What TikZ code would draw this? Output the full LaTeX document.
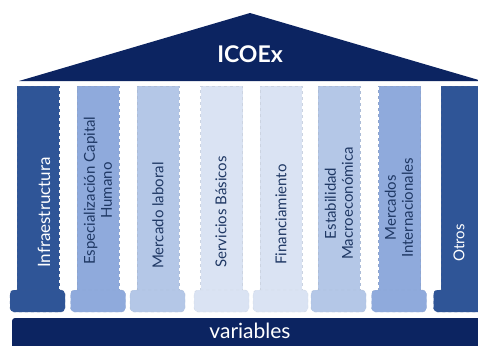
\documentclass[tikz,border=0pt]{standalone}
\usepackage{fontspec}
\setmainfont{Lato}
\definecolor{roofblue}{HTML}{0C2461}
\definecolor{deepblue}{HTML}{2F5597}
\definecolor{midblue}{HTML}{8FAADC}
\definecolor{softblue}{HTML}{B4C7E7}
\definecolor{paleblue}{HTML}{DAE3F3}
\definecolor{inkblue}{HTML}{1F3864}
\tikzset{
  pillar/.style={minimum width=42pt,minimum height=206pt,inner sep=0pt,
                 draw=#1!85!gray,dashed,fill=#1},
  plinth/.style={minimum width=55pt,minimum height=22pt,inner sep=0pt,
                 rounded corners=4pt,draw=#1!85!gray,dashed,fill=#1},
  colname/.style={rotate=90,anchor=west,align=center,inner sep=0pt,
                  font=\fontsize{15}{17}\selectfont,text=#1},
}
\begin{document}
\begin{tikzpicture}[x=1pt,y=-1pt]
  \useasboundingbox (0,0) rectangle (478,345);
  % roof
  \fill[roofblue] (19,81) -- (250,13) -- (482,81) -- cycle;
  \node[text=white,font=\fontsize{23}{26}\selectfont\bfseries] (icoex) at (250,54) {ICOEx};
  % pillars
  \node[pillar=deepblue] (p1) at (38,189)    {};
  \node[pillar=midblue]  (p2) at (98,189)    {};
  \node[pillar=softblue] (p3) at (158,189)   {};
  \node[pillar=paleblue] (p4) at (221.5,189) {};
  \node[pillar=paleblue] (p5) at (281,189)   {};
  \node[pillar=softblue] (p6) at (339,189)   {};
  \node[pillar=midblue]  (p7) at (399.5,189) {};
  \node[pillar=deepblue] (p8) at (462,189)   {};
  % plinths
  \node[plinth=deepblue] (b1) at (37.5,301)  {};
  \node[plinth=midblue]  (b2) at (98,301)    {};
  \node[plinth=softblue] (b3) at (157.5,301) {};
  \node[plinth=paleblue] (b4) at (221.5,301) {};
  \node[plinth=paleblue] (b5) at (280.5,301) {};
  \node[plinth=softblue] (b6) at (338.5,301) {};
  \node[plinth=midblue]  (b7) at (399,301)   {};
  \node[plinth=deepblue] (b8) at (461,301)   {};
  % pillar names
  \node[colname=white,font=\fontsize{17}{19}\selectfont] (n1) at (44,268) {Infraestructura};
  \node[colname=inkblue] (n2) at (98,265)  {Especialización Capital\\Humano};
  \node[colname=inkblue] (n3) at (158,269) {Mercado laboral};
  \node[colname=inkblue] (n4) at (221,268) {Servicios Básicos};
  \node[colname=inkblue] (n5) at (281,265) {Financiamiento};
  \node[colname=inkblue] (n6) at (339,260) {Estabilidad\\Macroeconómica};
  \node[colname=inkblue] (n7) at (399,258) {Mercados\\Internacionales};
  \node[colname=white]   (n8) at (459,262) {Otros};
  % base
  \fill[roofblue,rounded corners=3pt] (12,318) rectangle (492,360);
  \node[text=white,font=\fontsize{21}{24}\selectfont] (vars) at (250,331) {variables};
\end{tikzpicture}
\end{document}
